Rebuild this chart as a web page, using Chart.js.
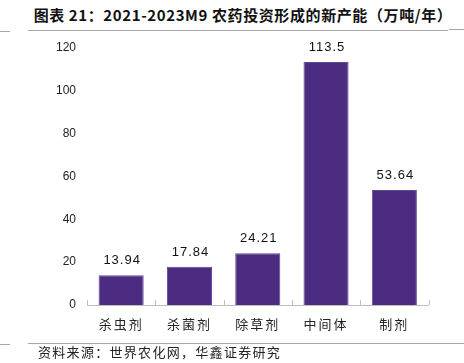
<!DOCTYPE html>
<html>
<head>
<meta charset="utf-8">
<script src="https://cdn.jsdelivr.net/npm/chart.js@4"></script>
<style>
  html, body { margin: 0; padding: 0; background: #fff; }
  #wrap { position: relative; width: 464px; height: 363px; overflow: hidden; }
  #dataChart { position: absolute; left: 0; top: 0; }
  .title { position: absolute; left: 0; width: 486px; top: 5px; text-align: center;
    font: bold 15px "Noto Sans CJK SC", "DejaVu Sans", sans-serif; color: #111; line-height: 20px;
    letter-spacing: 0.6px; }
  .source { position: absolute; left: 38px; top: 343px;
    font: 13px "Noto Sans CJK SC", sans-serif; color: #222; letter-spacing: 1.3px; line-height: 18px; }
  .rule { position: absolute; height: 1px; background: #a6a6a6; }
</style>
</head>
<body>
<div id="wrap">
  <div class="title">图表 21：2021-2023M9 农药投资形成的新产能（万吨/年）</div>
  <div class="rule" style="left:0;width:10px;top:31px"></div>
  <div class="rule" style="left:28px;width:420px;top:30px"></div>
  <div class="rule" style="left:449px;width:15px;top:29px"></div>
  <canvas id="dataChart" width="464" height="363"></canvas>
  <div class="rule" style="left:0;width:10px;top:344px"></div>
  <div class="rule" style="left:28px;width:421px;top:343px"></div>
  <div class="rule" style="left:449px;width:15px;top:343px"></div>
  <div class="source">资料来源：世界农化网，华鑫证券研究</div>
</div>
<script>
// 类别与数值
const categories = ['杀虫剂', '杀菌剂', '除草剂', '中间体', '制剂'];
const capacity = [13.94, 17.84, 24.21, 113.5, 53.64];
const valueLabels = ['13.94', '17.84', '24.21', '113.5', '53.64'];
const yTicks = [0, 20, 40, 60, 80, 100, 120];

// 柱顶数值标签 + 轴上的短刻度
const extras = {
    id: 'extras',
    beforeDraw(chart) {
        chart.ctx.letterSpacing = '0px';
    },
    afterDatasetsDraw(chart) {
        const ctx = chart.ctx;
        const meta = chart.getDatasetMeta(0);
        ctx.save();
        ctx.letterSpacing = '1px';
        ctx.font = '13px "Liberation Sans", Arial, sans-serif';
        ctx.fillStyle = '#111';
        ctx.textAlign = 'center';
        ctx.textBaseline = 'bottom';
        meta.data.forEach((bar, i) => {
            ctx.fillText(valueLabels[i], bar.x + 1, bar.y - 8);
        });
        ctx.restore();

        // 类别分隔刻度（向上）
        const x = chart.scales.x;
        const base = chart.chartArea.bottom;
        ctx.save();
        ctx.strokeStyle = '#bfbfbf';
        ctx.lineWidth = 1;
        ctx.beginPath();
        for (let i = 0; i <= categories.length; i++) {
            const px = Math.round(x.left + i * (x.width / categories.length)) + 0.5;
            ctx.moveTo(px, base);
            ctx.lineTo(px, base - 5);
        }
        ctx.stroke();
        ctx.restore();
    }
};

const ctx = document.getElementById('dataChart').getContext('2d');
new Chart(ctx, {
    type: 'bar',
    data: {
        labels: categories,
        datasets: [{
            data: capacity,
            backgroundColor: '#4B2C80',
            borderColor: '#5f4898',
            borderWidth: 1,
            categoryPercentage: 1,
            barPercentage: 0.66
        }]
    },
    options: {
        responsive: false,
        animation: false,
        layout: { padding: { top: 48, right: 35.5, left: 0, bottom: 0 } },
        plugins: { legend: { display: false }, tooltip: { enabled: false } },
        scales: {
            x: {
                grid: { display: false, drawTicks: false },
                border: { display: true, color: '#bfbfbf', width: 1 },
                ticks: {
                    padding: 11,
                    color: '#222',
                    font: { family: '"Noto Sans CJK SC", sans-serif', size: 13 }
                },
                afterFit(scale) {
                    scale.height = 58;
                    // 类别标签字间距
                    if (!scale._spaced) {
                        const orig = scale.drawLabels;
                        scale.drawLabels = function (area) {
                            this.ctx.letterSpacing = '2px';
                            orig.call(this, area);
                            this.ctx.letterSpacing = '0px';
                        };
                        scale._spaced = true;
                    }
                }
            },
            y: {
                min: 0,
                max: 120,
                afterBuildTicks(scale) { scale.ticks = yTicks.map(v => ({ value: v })); },
                grid: { display: false, drawTicks: false },
                border: { display: false },
                ticks: {
                    padding: 11,
                    color: '#222',
                    font: { family: '"Liberation Sans", Arial, sans-serif', size: 12 }
                },
                afterFit(scale) { scale.width = 87; }
            }
        }
    },
    plugins: [extras]
});
</script>
</body>
</html>
